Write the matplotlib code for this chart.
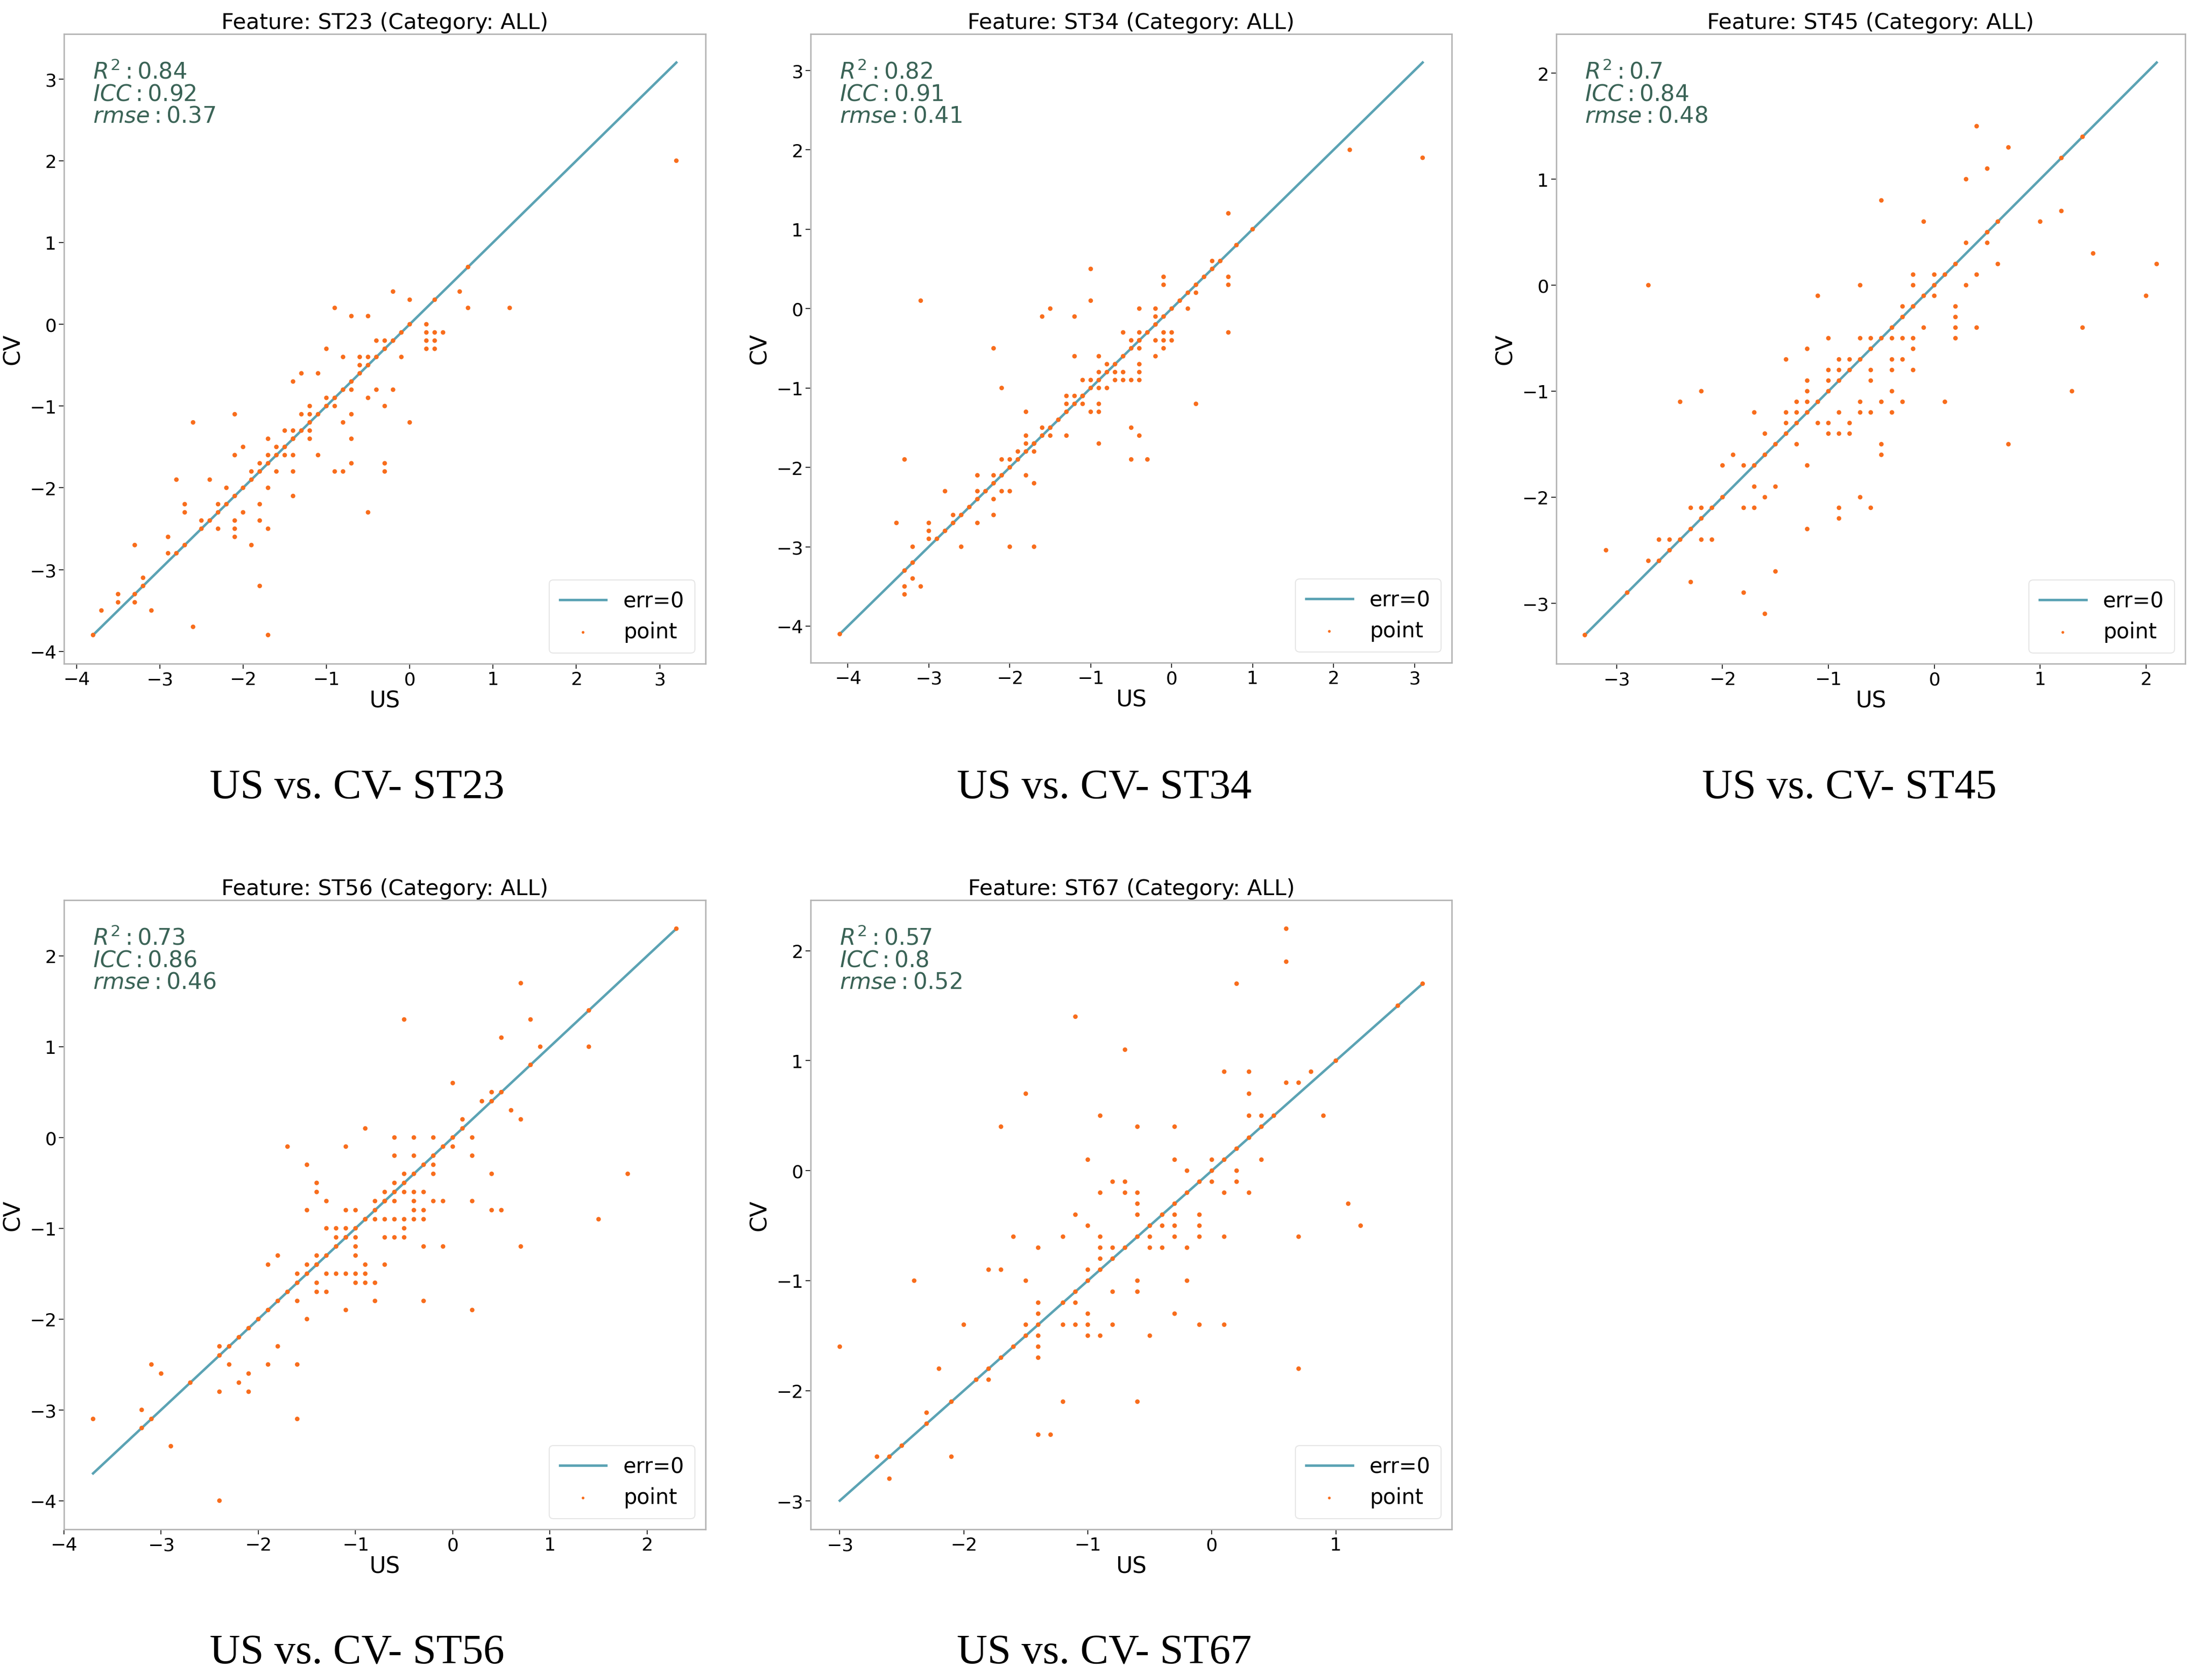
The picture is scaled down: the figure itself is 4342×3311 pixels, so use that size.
import numpy as np
import matplotlib
matplotlib.use("Agg")
import matplotlib.pyplot as plt
from matplotlib.ticker import MultipleLocator

# ---- data (US value, CV value) ----
st23_pairs = [
    (3.2, 2.0), (-0.2, 0.4), (0.0, 0.3), (-0.9, 0.2), (0.6, 0.4), (0.7, 0.2), (1.2, 0.2),
    (-0.7, 0.1), (-0.5, 0.1), (0.2, 0.0), (0.2, -0.1), (0.3, -0.1), (0.4, -0.1), (0.2, -0.2),
    (0.3, -0.2), (0.2, -0.3), (0.3, -0.3), (-1.0, -0.3), (-0.8, -0.4), (-0.6, -0.4), (-0.6, -0.5),
    (-0.5, -0.4), (-0.1, -0.4), (-0.4, -0.2), (-0.3, -0.2), (-1.4, -0.7), (-1.3, -0.6), (-1.1, -0.6),
    (-0.7, -0.8), (-0.4, -0.8), (-0.2, -0.8), (-0.5, -0.9), (-1.0, -0.9), (-0.9, -1.0), (-0.3, -1.0),
    (0.0, -1.2), (-0.8, -1.2), (-0.7, -1.1), (-0.7, -1.4), (-0.7, -1.7), (-0.9, -1.8), (-0.8, -1.8),
    (-0.3, -1.7), (-0.3, -1.8), (-0.5, -2.3), (-1.2, -1.0), (-1.2, -1.1), (-1.3, -1.1), (-1.2, -1.3),
    (-1.2, -1.4), (-1.1, -1.6), (-1.4, -1.3), (-1.5, -1.3), (-1.4, -1.4), (-1.6, -1.5), (-1.5, -1.6),
    (-1.4, -1.6), (-1.7, -1.4), (-1.7, -1.6), (-1.6, -1.8), (-1.4, -1.8), (-1.4, -2.1), (-1.8, -1.7),
    (-1.9, -1.8), (-1.7, -2.0), (-1.8, -2.2), (-1.8, -2.4), (-1.7, -2.5), (-1.9, -2.7), (-1.8, -3.2),
    (-1.7, -3.8), (-2.1, -1.1), (-2.1, -1.6), (-2.0, -1.5), (-2.0, -2.3), (-2.1, -2.4), (-2.1, -2.5),
    (-2.1, -2.6), (-2.2, -2.0), (-2.3, -2.2), (-2.3, -2.5), (-2.4, -1.9), (-2.5, -2.4), (-2.6, -1.2),
    (-2.6, -3.7), (-2.7, -2.2), (-2.7, -2.3), (-2.8, -1.9), (-2.9, -2.6), (-2.9, -2.8), (-3.3, -2.7),
    (-3.2, -3.1), (-3.3, -3.4), (-3.1, -3.5), (-3.5, -3.3), (-3.5, -3.4), (-3.7, -3.5),
]
st23_exact = [-3.8, -3.3, -3.2, -2.8, -2.7, -2.5, -2.4, -2.3, -2.2, -2.1, -2.0, -1.9, -1.8, -1.7,
              -1.6, -1.5, -1.4, -1.3, -1.2, -1.1, -1.0, -0.9, -0.8, -0.7, -0.6, -0.5, -0.4, -0.3,
              -0.2, -0.1, 0.0, 0.3, 0.7]

st34_pairs = [
    (3.1, 1.9), (2.2, 2.0), (0.7, 1.2), (-3.1, 0.1), (-1.0, 0.5), (-1.0, 0.1), (-1.6, -0.1),
    (-1.5, 0.0), (-1.2, -0.1), (-2.2, -0.5), (-2.1, -1.0), (-1.2, -0.6), (-0.4, 0.0), (-0.2, 0.0),
    (-0.2, -0.1), (-0.1, 0.4), (-0.1, 0.3), (0.2, 0.0), (0.3, 0.2), (0.5, 0.6), (0.7, 0.4),
    (0.7, 0.3), (0.7, -0.3), (0.3, -1.2), (-0.1, -0.3), (-0.1, -0.4), (-0.1, -0.5), (0.0, -0.3),
    (0.0, -0.4), (-0.2, -0.4), (-0.2, -0.6), (-0.6, -0.3), (-0.5, -0.4), (-0.4, -0.3), (-0.4, -0.4),
    (-0.4, -0.5), (-0.4, -0.7), (-0.4, -0.8), (-0.4, -0.9), (-0.5, -0.9), (-0.6, -0.8), (-0.6, -0.9),
    (-0.7, -0.8), (-0.7, -0.9), (-0.8, -0.7), (-0.8, -1.0), (-0.9, -0.6), (-0.9, -0.8), (-0.9, -1.0),
    (-0.9, -1.2), (-0.9, -1.3), (-1.0, -0.9), (-1.0, -1.3), (-1.1, -0.9), (-1.1, -1.1), (-1.1, -1.2),
    (-1.2, -1.1), (-1.3, -1.1), (-1.3, -1.2), (-1.3, -1.6), (-0.9, -1.7), (-0.5, -1.5), (-0.4, -1.6),
    (-0.5, -1.9), (-0.3, -1.9), (-1.5, -1.6), (-1.6, -1.5), (-1.8, -1.3), (-1.8, -1.6), (-1.8, -1.7),
    (-1.7, -1.7), (-1.7, -1.8), (-1.9, -1.8), (-1.8, -2.1), (-1.7, -2.2), (-2.1, -1.9), (-2.0, -1.9),
    (-2.1, -2.3), (-2.0, -2.3), (-2.0, -3.0), (-1.7, -3.0), (-2.2, -2.1), (-2.2, -2.4), (-2.2, -2.6),
    (-2.4, -2.1), (-2.4, -2.3), (-2.4, -2.7), (-2.6, -3.0), (-2.7, -2.6), (-2.8, -2.3), (-3.0, -2.7),
    (-3.0, -2.8), (-3.0, -2.9), (-3.3, -1.9), (-3.4, -2.7), (-3.2, -3.0), (-3.2, -3.4), (-3.1, -3.5),
    (-3.3, -3.5), (-3.3, -3.6),
]
st34_exact = [-4.1, -3.3, -3.2, -2.9, -2.8, -2.7, -2.6, -2.5, -2.4, -2.3, -2.2, -2.1, -2.0, -1.9,
              -1.8, -1.7, -1.6, -1.5, -1.4, -1.3, -1.2, -1.1, -1.0, -0.9, -0.8, -0.7, -0.6, -0.5,
              -0.4, -0.3, -0.2, -0.1, 0.0, 0.1, 0.2, 0.3, 0.4, 0.5, 0.6, 0.8, 1.0]

st45_pairs = [
    (0.4, 1.5), (0.7, 1.3), (0.3, 1.0), (0.5, 1.1), (-0.5, 0.8), (-0.1, 0.6), (1.0, 0.6),
    (1.2, 0.7), (1.5, 0.3), (2.1, 0.2), (2.0, -0.1), (1.4, -0.4), (1.3, -1.0), (0.7, -1.5),
    (0.1, -1.1), (0.4, -0.4), (0.4, 0.1), (0.3, 0.0), (0.3, 0.4), (0.5, 0.4), (0.6, 0.2),
    (-2.7, 0.0), (-0.7, 0.0), (-1.1, -0.1), (-0.2, 0.1), (-0.2, 0.0), (0.0, 0.1), (0.0, -0.1),
    (-0.1, -0.4), (0.2, -0.2), (0.2, -0.3), (0.2, -0.4), (0.2, -0.5), (-0.3, -0.2), (-0.2, -0.5),
    (-0.2, -0.6), (-0.2, -0.8), (-0.3, -0.5), (-0.3, -0.7), (-0.4, -0.5), (-0.4, -0.7), (-0.4, -0.8),
    (-0.4, -1.0), (-0.3, -1.1), (-0.4, -1.2), (-0.6, -0.5), (-0.6, -0.8), (-0.6, -0.9), (-0.7, -0.5),
    (-0.6, -1.2), (-0.5, -1.1), (-0.7, -1.1), (-0.7, -1.2), (-0.5, -1.5), (-0.5, -1.6), (-0.8, -0.7),
    (-0.9, -0.7), (-0.9, -0.8), (-1.0, -0.5), (-1.0, -0.8), (-1.0, -0.9), (-0.9, -1.2), (-1.0, -1.3),
    (-1.0, -1.4), (-0.9, -1.4), (-0.8, -1.3), (-0.8, -1.4), (-1.1, -1.3), (-1.2, -0.6), (-1.2, -0.9),
    (-1.2, -1.0), (-1.2, -1.1), (-1.3, -1.1), (-1.3, -1.2), (-1.4, -0.7), (-1.4, -1.2), (-1.4, -1.3),
    (-1.3, -1.5), (-1.2, -1.7), (-1.2, -2.3), (-1.6, -1.4), (-1.7, -1.2), (-1.5, -1.9), (-1.6, -2.0),
    (-1.7, -1.9), (-1.7, -2.1), (-1.8, -2.1), (-1.8, -1.7), (-1.9, -1.6), (-2.0, -1.7), (-2.2, -1.0),
    (-2.4, -1.1), (-2.3, -2.1), (-2.2, -2.1), (-2.2, -2.4), (-2.1, -2.4), (-2.3, -2.8), (-2.6, -2.4),
    (-2.5, -2.4), (-2.7, -2.6), (-3.1, -2.5), (-1.5, -2.7), (-1.8, -2.9), (-1.6, -3.1), (-0.9, -2.1),
    (-0.9, -2.2), (-0.7, -2.0), (-0.6, -2.1),
]
st45_exact = [-3.3, -2.9, -2.6, -2.5, -2.4, -2.3, -2.2, -2.1, -2.0, -1.7, -1.6, -1.5, -1.4, -1.3,
              -1.2, -1.1, -1.0, -0.9, -0.8, -0.7, -0.6, -0.5, -0.4, -0.3, -0.2, -0.1, 0.0, 0.1,
              0.2, 0.5, 0.6, 1.2, 1.4]

st56_pairs = [
    (0.7, 1.7), (-0.5, 1.3), (0.8, 1.3), (0.5, 1.1), (0.9, 1.0), (1.4, 1.0), (1.8, -0.4),
    (1.5, -0.9), (0.0, 0.6), (0.3, 0.4), (0.4, 0.5), (0.6, 0.3), (0.7, 0.2), (0.1, 0.2),
    (0.2, 0.0), (0.2, -0.2), (0.2, -0.7), (0.2, -1.9), (0.0, -0.1), (0.4, -0.4), (0.4, -0.8),
    (0.5, -0.8), (0.7, -1.2), (-0.9, 0.1), (-1.7, -0.1), (-1.1, -0.1), (-1.5, -0.3), (-0.6, 0.0),
    (-0.6, -0.2), (-0.4, 0.0), (-0.4, -0.2), (-0.2, 0.0), (-0.2, -0.3), (-0.2, -0.4), (-0.1, -0.7),
    (-0.2, -0.7), (-0.3, -1.2), (-0.1, -1.2), (-0.3, -1.8), (-0.5, -0.4), (-0.5, -0.6), (-0.4, -0.6),
    (-0.3, -0.6), (-0.4, -0.7), (-0.4, -0.8), (-0.4, -0.9), (-0.3, -0.8), (-0.3, -0.9), (-0.5, -0.9),
    (-0.5, -1.0), (-0.5, -1.1), (-0.6, -0.9), (-0.6, -1.1), (-0.7, -0.9), (-0.7, -1.1), (-0.6, -0.5),
    (-0.6, -0.7), (-0.7, -0.6), (-0.7, -0.7), (-0.8, -0.7), (-0.8, -0.9), (-0.9, -0.9), (-1.4, -0.5),
    (-1.4, -0.6), (-1.3, -0.7), (-1.1, -0.8), (-1.0, -0.8), (-1.3, -1.0), (-1.2, -1.0), (-1.1, -1.0),
    (-1.2, -1.1), (-1.1, -1.1), (-1.0, -1.1), (-1.0, -1.2), (-1.0, -1.3), (-1.5, -0.8), (-1.4, -1.3),
    (-1.4, -1.4), (-1.3, -1.5), (-1.2, -1.5), (-1.1, -1.5), (-1.0, -1.5), (-0.9, -1.5), (-1.0, -1.6),
    (-0.9, -1.6), (-0.8, -1.6), (-0.9, -1.4), (-0.7, -1.4), (-1.5, -1.4), (-1.6, -1.5), (-1.4, -1.6),
    (-1.4, -1.7), (-1.3, -1.7), (-1.6, -1.8), (-0.8, -1.8), (-1.1, -1.9), (-1.8, -1.3), (-1.9, -1.4),
    (-1.5, -2.0), (-1.8, -2.3), (-1.9, -2.5), (-1.6, -2.5), (-1.6, -3.1), (-2.1, -2.6), (-2.1, -2.8),
    (-2.2, -2.7), (-2.3, -2.5), (-2.4, -2.3), (-2.4, -2.8), (-2.4, -4.0), (-3.1, -2.5), (-3.0, -2.6),
    (-3.2, -3.0), (-2.9, -3.4), (-3.7, -3.1),
]
st56_exact = [-3.2, -3.1, -2.7, -2.4, -2.3, -2.2, -2.1, -2.0, -1.9, -1.8, -1.7, -1.6, -1.5, -1.4,
              -1.3, -1.2, -1.1, -1.0, -0.9, -0.8, -0.7, -0.6, -0.5, -0.4, -0.3, -0.2, -0.1, 0.0,
              0.1, 0.4, 0.5, 0.8, 1.4, 2.3]

st67_pairs = [
    (0.6, 2.2), (0.6, 1.9), (0.2, 1.7), (-1.1, 1.4), (-0.7, 1.1), (-1.5, 0.7), (-0.9, 0.5),
    (-1.7, 0.4), (-0.6, 0.4), (-0.3, 0.4), (0.1, 0.9), (0.3, 0.9), (0.3, 0.7), (0.3, 0.5),
    (0.6, 0.8), (0.7, 0.8), (0.8, 0.9), (0.9, 0.5), (0.4, 0.5), (0.4, 0.1), (0.2, 0.0),
    (0.2, -0.1), (0.1, -0.2), (0.1, -0.6), (0.1, -1.4), (0.3, -0.2), (0.0, 0.1), (0.0, -0.1),
    (-0.1, -0.4), (-0.1, -0.5), (-0.1, -0.6), (-0.1, -1.4), (-0.2, 0.0), (-0.2, -0.7), (-0.2, -1.0),
    (-0.3, 0.1), (-0.3, -0.4), (-0.3, -0.5), (-0.3, -0.6), (-0.3, -1.3), (-0.4, -0.5), (-0.4, -0.7),
    (-0.5, -0.6), (-0.5, -0.7), (-0.5, -1.5), (-0.6, -0.2), (-0.6, -0.3), (-0.6, -0.4), (-0.6, -1.0),
    (-0.6, -1.1), (-0.6, -2.1), (-0.7, -0.1), (-0.7, -0.2), (-0.8, -0.1), (-0.8, -0.7), (-0.8, -1.1),
    (-0.8, -1.4), (-0.9, -0.2), (-0.9, -0.6), (-0.9, -0.7), (-0.9, -0.8), (-0.9, -1.5), (-1.0, 0.1),
    (-1.0, -0.5), (-1.0, -0.9), (-1.0, -1.3), (-1.0, -1.4), (-1.0, -1.5), (-1.1, -0.4), (-1.1, -1.2),
    (-1.1, -1.4), (-1.2, -0.6), (-1.2, -1.4), (-1.2, -2.1), (-1.4, -0.7), (-1.4, -1.2), (-1.4, -1.3),
    (-1.4, -1.5), (-1.4, -1.6), (-1.4, -1.7), (-1.4, -2.4), (-1.3, -2.4), (-1.5, -1.0), (-1.6, -0.6),
    (-1.5, -1.4), (-1.8, -0.9), (-1.7, -0.9), (-1.8, -1.9), (-2.0, -1.4), (-2.2, -1.8), (-2.4, -1.0),
    (-2.3, -2.2), (-2.1, -2.6), (-2.7, -2.6), (-2.6, -2.8), (-3.0, -1.6), (0.7, -0.6), (0.7, -1.8),
    (1.1, -0.3), (1.2, -0.5),
]
st67_exact = [-2.6, -2.5, -2.3, -2.1, -1.9, -1.8, -1.7, -1.6, -1.5, -1.4, -1.2, -1.1, -1.0, -0.9,
              -0.8, -0.7, -0.6, -0.5, -0.4, -0.3, -0.2, -0.1, 0.0, 0.1, 0.2, 0.3, 0.4, 0.5, 1.0,
              1.5, 1.7]

features = ["ST23", "ST34", "ST45", "ST56", "ST67"]
r2_vals = ["0.84", "0.82", "0.7", "0.73", "0.57"]
icc_vals = ["0.92", "0.91", "0.84", "0.86", "0.8"]
rmse_vals = ["0.37", "0.41", "0.48", "0.46", "0.52"]
all_pairs = [st23_pairs, st34_pairs, st45_pairs, st56_pairs, st67_pairs]
all_exact = [st23_exact, st34_exact, st45_exact, st56_exact, st67_exact]

LINE_COLOR = "#5ba3b4"
POINT_COLOR = "#f86d1c"
TEXT_COLOR = "#3a6356"
SPINE_COLOR = "#b4b4b4"

# axes boxes in figure fraction (left, bottom, width, height)
boxes = [
    (0.0290, 0.6048, 0.2911, 0.3747),
    (0.3678, 0.6054, 0.2909, 0.3741),
    (0.7061, 0.6048, 0.2854, 0.3747),
    (0.0290, 0.0897, 0.2911, 0.3744),
    (0.3678, 0.0897, 0.2909, 0.3744),
]
caption_pos = [(0.162, 0.531), (0.501, 0.531), (0.839, 0.531), (0.162, 0.016), (0.501, 0.016)]

fig = plt.figure(figsize=(43.42, 33.12), dpi=100)

for i, feat in enumerate(features):
    ax = fig.add_axes(boxes[i])
    pairs = np.array(all_pairs[i])
    exact = np.array(all_exact[i])
    us = np.concatenate([pairs[:, 0], exact])
    cv = np.concatenate([pairs[:, 1], exact])

    lo, hi = us.min(), us.max()
    ax.plot([lo, hi], [lo, hi], color=LINE_COLOR, lw=3.5, label="err=0", zorder=2)
    ax.scatter(us, cv, s=42, color=POINT_COLOR, edgecolors="none", label="point", zorder=3)

    ax.set_title(f"Feature: {feat} (Category: ALL)", fontsize=31, pad=8)
    ax.set_xlabel("US", fontsize=32, labelpad=2)
    ax.set_ylabel("CV", fontsize=32, labelpad=8)
    ax.xaxis.set_major_locator(MultipleLocator(1))
    ax.yaxis.set_major_locator(MultipleLocator(1))
    ax.tick_params(labelsize=26, length=7, width=1.5, color="#333333")
    for sp in ax.spines.values():
        sp.set_color(SPINE_COLOR)
        sp.set_linewidth(2)

    stats = f"$R^2: {r2_vals[i]}$\n$ICC: {icc_vals[i]}$\n$rmse: {rmse_vals[i]}$"
    ax.text(0.045, 0.958, stats, transform=ax.transAxes, va="top", ha="left",
            fontsize=32, color=TEXT_COLOR, linespacing=1.0)

    leg = ax.legend(loc="lower right", fontsize=30, markerscale=0.6, handlelength=2.2,
                    borderpad=0.5, labelspacing=0.45, fancybox=True)
    leg.get_frame().set_edgecolor("#e0e0e0")
    leg.get_frame().set_linewidth(1.5)

    cx, cy = caption_pos[i]
    fig.text(cx, cy, f"US vs. CV- {feat}", ha="center", va="center",
             fontsize=60, family="Liberation Serif")

fig.savefig("out.png", dpi=100, facecolor="white")
